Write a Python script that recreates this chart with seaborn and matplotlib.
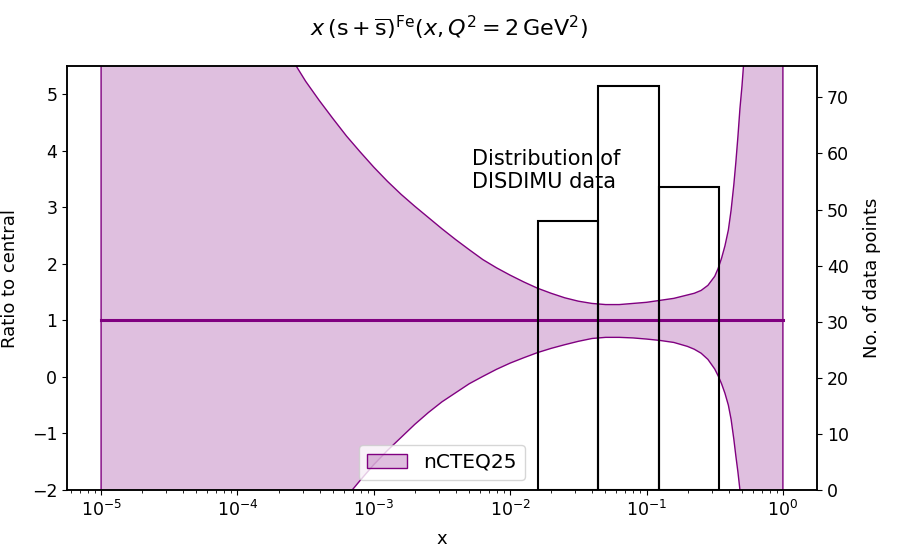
import numpy as np
import pandas as pd
import matplotlib
matplotlib.use("Agg")
import matplotlib.pyplot as plt
import seaborn as sns

# ---- data ----
log10_x = [-5.0, -4.0, -3.7, -3.6, -3.5, -3.4, -3.3, -3.2, -3.1, -3.0, -2.9,
           -2.8, -2.7, -2.6, -2.5, -2.4, -2.3, -2.2, -2.1, -2.0, -1.9, -1.8,
           -1.7, -1.6, -1.5, -1.4, -1.3, -1.2, -1.1, -1.0, -0.9, -0.8, -0.7,
           -0.65, -0.6, -0.55, -0.5, -0.475, -0.45, -0.425, -0.4, -0.38, -0.36,
           -0.345, -0.33, -0.315, -0.3, -0.28, -0.25, 0.0]
upper = [60.0, 9.5, 6.05, 5.62, 5.23, 4.89, 4.57, 4.26, 3.98, 3.71, 3.46,
         3.23, 3.02, 2.82, 2.62, 2.43, 2.25, 2.075, 1.93, 1.80, 1.68, 1.57,
         1.48, 1.40, 1.34, 1.30, 1.28, 1.28, 1.30, 1.32, 1.355, 1.39, 1.45,
         1.48, 1.53, 1.62, 1.78, 1.92, 2.10, 2.32, 2.60, 2.95, 3.40,
         3.80, 4.25, 4.75, 5.15, 5.8, 7.0, 50.0]
lower = [-60.0, -8.0, -3.8, -3.4, -3.07, -2.75, -2.42, -2.12, -1.83, -1.55, -1.30,
         -1.07, -0.84, -0.63, -0.44, -0.28, -0.12, 0.01, 0.135, 0.245, 0.34, 0.43,
         0.505, 0.57, 0.63, 0.68, 0.70, 0.70, 0.69, 0.67, 0.645, 0.61, 0.54,
         0.49, 0.42, 0.31, 0.14, 0.02, -0.12, -0.29, -0.50, -0.75, -1.10,
         -1.40, -1.68, -2.0, -2.5, -3.2, -4.5, -50.0]
central = [1.0] * len(log10_x)

bin_edges = [0.0161, 0.0444, 0.1225, 0.338]
bin_counts = [48, 72, 54]

x = 10 ** np.array(log10_x)
df = pd.DataFrame({"x": x, "upper": upper, "lower": lower, "central": central})

plt.rcParams["font.family"] = ["DejaVu Sans"]
plt.rcParams["mathtext.fontset"] = "dejavusans"

fig = plt.figure(figsize=(8.99, 5.5), dpi=100)
ax = fig.add_axes([67 / 899, 1 - 490 / 550, 750 / 899, 424 / 550])

purple = "#800080"
ax.fill_between(df["x"], df["lower"], df["upper"], facecolor=(0.5, 0, 0.5, 0.25),
                edgecolor=purple, linewidth=1.0, label="nCTEQ25")
sns.lineplot(data=df, x="x", y="central", ax=ax, color=purple, linewidth=2.2)
ax.set_xscale("log")
ax.set_ylim(-2, 5.5)
ax.set_xlabel("x", fontsize=13, labelpad=7)
ax.set_ylabel("Ratio to central", fontsize=13, labelpad=9)
ax.legend(loc="lower center", fontsize=14.5)

ax2 = ax.twinx()
widths = np.diff(bin_edges)
ax2.bar(bin_edges[:-1], bin_counts, width=widths, align="edge", fill=False,
        edgecolor="black", linewidth=1.5)
ax2.set_ylabel("No. of data points", fontsize=13, labelpad=10)
ax2.set_ylim(0, 75.6)
ax.set_xlim(10 ** -5.25, 10 ** 0.25)

ax.text(0.54, 0.805, "Distribution of\nDISDIMU data", transform=ax.transAxes,
        fontsize=15, va="top", ha="left", color="black")

for a in (ax, ax2):
    a.tick_params(labelsize=12.5, colors="black")
    for s in a.spines.values():
        s.set_linewidth(1.1)
        s.set_color("black")

fig.suptitle(r"$x\,(\mathrm{s}+\overline{\mathrm{s}})^{\mathrm{Fe}}(x,Q^2=2\,\mathrm{GeV}^2)$",
             fontsize=16, y=0.975)

fig.savefig("out.png", dpi=100)
